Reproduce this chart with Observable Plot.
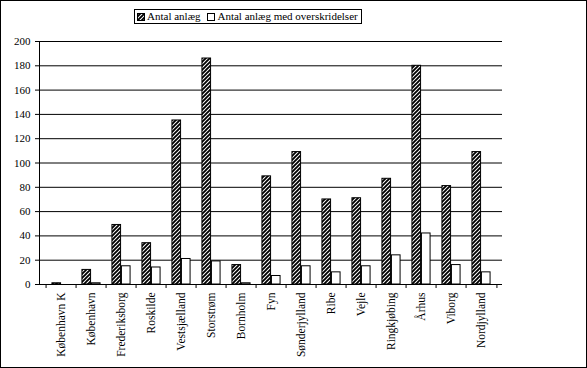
<!DOCTYPE html>
<html><head><meta charset="utf-8">
<script src="https://cdn.jsdelivr.net/npm/d3@7"></script>
<script src="https://cdn.jsdelivr.net/npm/@observablehq/plot@0.6"></script>
<style>
body{margin:0;background:#fff;}
#wrap{position:relative;width:587px;height:368px;font-family:'Liberation Serif','DejaVu Serif',serif;overflow:hidden;}
#wrap > svg{position:absolute;left:0;top:0;}
#wrap svg text{font-family:'Liberation Serif','DejaVu Serif',serif;}
#border{position:absolute;left:0;top:0;right:0;bottom:0;border:1px solid #000;pointer-events:none;}
#legend{position:absolute;left:134px;top:9px;height:13px;border:1px solid #000;display:flex;align-items:center;font-size:11px;line-height:13px;padding:0 3px 0 2px;white-space:nowrap;background:#fff;color:#000;}
#legend svg{display:block;margin-right:2px;}
#legend .gap{width:7px;}
</style></head>
<body><div id="wrap"><div id="legend"></div><div id="border"></div></div>
<script>
const regions = ["København K","København","Frederiksborg","Roskilde","Vestsjælland","Storstrøm","Bornholm","Fyn","Sønderjylland","Ribe","Vejle","Ringkjøbing","Århus","Viborg","Nordjylland"];
const anlaeg = [1,12,49,34,135,186,16,89,109,70,71,87,180,81,109];
const overskridelser = [0,1,15,14,21,19,1,7,15,10,15,24,42,16,10];
const seriesNames = ["Antal anlæg","Antal anlæg med overskridelser"];
const yTicks = [0,20,40,60,80,100,120,140,160,180,200];

const W = 587, H = 368, mL = 39, mR = 85, mT = 41, mB = 84;
const bw = (W - mL - mR) / regions.length;
const barW = 9.5;
const data = regions.map((r, i) => ({region: r, a: anlaeg[i], o: overskridelser[i]}));

const plot = Plot.plot({
  width: W, height: H, marginLeft: mL, marginRight: mR, marginTop: mT, marginBottom: mB,
  style: {fontFamily: "'Liberation Serif','DejaVu Serif',serif", fontSize: "11px", color: "#000", background: "transparent", overflow: "visible"},
  x: {domain: regions, padding: 0, label: null},
  y: {domain: [0, 200], label: null},
  marks: [
    Plot.gridY(yTicks, {stroke: "#000", strokeOpacity: 1}),
    Plot.barY(data, {x: "region", y: "a", fill: "url(#hatch)", stroke: "#000", strokeWidth: 1, insetLeft: bw/2 - barW, insetRight: bw/2}),
    Plot.barY(data, {x: "region", y: "o", fill: "#fff", stroke: "#000", strokeWidth: 1, insetLeft: bw/2, insetRight: bw/2 - barW}),
    Plot.ruleY([0], {stroke: "#000"}),
    Plot.frame({anchor: "left", stroke: "#000"}),
    Plot.axisY({ticks: yTicks, tickSize: 4, tickPadding: 5, tickFormat: d => String(d), label: null, fill: "#000", stroke: "#000"}),
    Plot.axisX({tickSize: 0, tickRotate: -90, tickPadding: 8, fontSize: 11.5, label: null, fill: "#000"}),
    Plot.axisX({ticks: regions, tickSize: 4, tickFormat: () => "", dx: -bw/2, label: null, stroke: "#000"}),
    Plot.axisX({ticks: [regions[regions.length - 1]], tickSize: 4, tickFormat: () => "", dx: bw/2, label: null, stroke: "#000"})
  ]
});

const defs = d3.select(plot).insert("defs", ":first-child");
const pat = defs.append("pattern").attr("id", "hatch").attr("patternUnits", "userSpaceOnUse").attr("width", 4).attr("height", 4);
pat.append("rect").attr("width", 4).attr("height", 4).attr("fill", "#fff");
pat.append("path").attr("d", "M-1,1L1,-1M0,4L4,0M3,5L5,3").attr("stroke", "#000").attr("stroke-width", 1.9);

const wrap = document.getElementById("wrap");
wrap.insertBefore(plot, wrap.firstChild);

const legend = d3.select("#legend");
seriesNames.forEach((name, i) => {
  if (i > 0) legend.append("span").attr("class", "gap");
  const s = legend.append("svg").attr("width", 8).attr("height", 8);
  s.append("rect").attr("x", 0.5).attr("y", 0.5).attr("width", 7).attr("height", 7)
    .attr("fill", i === 0 ? "url(#hatch)" : "#fff").attr("stroke", "#000");
  legend.append("span").text(name);
});
</script>
</body></html>
